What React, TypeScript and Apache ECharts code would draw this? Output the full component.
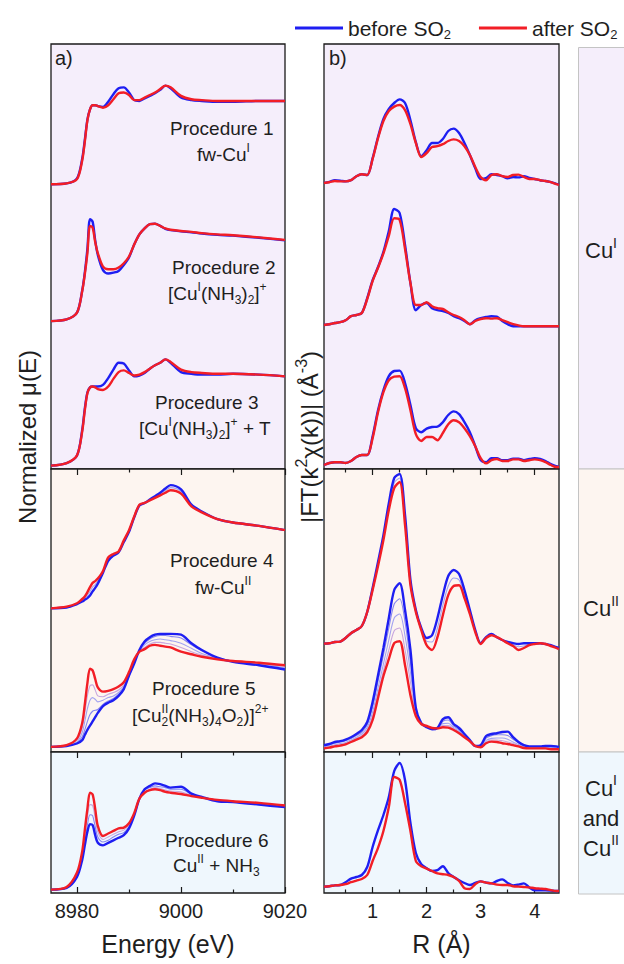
import React, { useEffect, useRef } from 'react';
import * as echarts from 'echarts';

// ---------------- data ----------------
const ENERGY = [8975, 8978, 8980, 8981, 8981.5, 8982, 8982.5, 8983, 8983.5, 8984, 8985, 8986, 8987, 8988, 8989, 8990, 8991, 8992, 8993, 8994, 8995, 8996, 8997, 8998, 9000, 9002, 9004, 9007, 9010, 9015, 9020];
const R_GRID = [0.1, 0.2, 0.3, 0.4, 0.5, 0.6, 0.7, 0.8, 0.9, 1.0, 1.1, 1.2, 1.3, 1.4, 1.5, 1.6, 1.7, 1.8, 1.9, 2.0, 2.1, 2.2, 2.3, 2.4, 2.5, 2.6, 2.7, 2.8, 2.9, 3.0, 3.1, 3.2, 3.3, 3.4, 3.5, 3.6, 3.7, 3.8, 3.9, 4.0, 4.1, 4.2, 4.3, 4.4, 4.45];

const ENERGY_TICK_LABELS = [8980, 9000, 9020];
const ENERGY_MINOR_TICKS = [8990, 9010];
const R_TICK_LABELS = [1, 2, 3, 4];
const R_MINOR_TICKS = [0.5, 1.5, 2.5, 3.5];

const PROCEDURE_SECTION = [0, 0, 0, 1, 1, 2];
const XANES_OFFSETS = [3.35, 1.74, 0.04, 1.69, 0.06, 0.04];
const FT_OFFSETS = [7.1, 3.55, 0.05, 2.55, 0.05, 0.05];

// XANES, normalized mu(E)
const X1_BEFORE = [0, 0.01, 0.07, 0.3, 0.52, 0.76, 0.88, 0.93, 0.93, 0.92, 0.91, 0.97, 1.06, 1.13, 1.14, 1.08, 0.99, 0.98, 1.01, 1.04, 1.07, 1.11, 1.16, 1.13, 1.02, 0.99, 0.98, 0.97, 0.97, 0.98, 0.98];
const X1_AFTER = [0, 0.01, 0.06, 0.28, 0.5, 0.75, 0.88, 0.93, 0.93, 0.92, 0.9, 0.93, 1.0, 1.07, 1.08, 1.05, 0.99, 0.99, 1.02, 1.05, 1.08, 1.12, 1.16, 1.14, 1.04, 1.0, 0.99, 0.98, 0.98, 0.98, 0.98];
const X2_BEFORE = [0, 0.02, 0.1, 0.36, 0.57, 0.85, 1.2, 1.17, 0.95, 0.78, 0.6, 0.56, 0.57, 0.59, 0.66, 0.75, 0.9, 1.02, 1.09, 1.14, 1.145, 1.12, 1.085, 1.07, 1.055, 1.045, 1.03, 1.015, 1.005, 0.98, 0.95];
const X2_AFTER = [0, 0.02, 0.1, 0.35, 0.55, 0.8, 1.12, 1.1, 0.93, 0.8, 0.64, 0.61, 0.61, 0.63, 0.68, 0.76, 0.9, 1.02, 1.09, 1.14, 1.145, 1.12, 1.09, 1.075, 1.06, 1.05, 1.035, 1.02, 1.01, 0.985, 0.955];
const X3_BEFORE = [0, 0.03, 0.12, 0.42, 0.67, 0.86, 0.92, 0.93, 0.93, 0.93, 0.95, 1.03, 1.13, 1.21, 1.2, 1.12, 1.05, 1.06, 1.09, 1.14, 1.18, 1.21, 1.25, 1.21, 1.1, 1.08, 1.07, 1.07, 1.08, 1.07, 1.05];
const X3_AFTER = [0, 0.03, 0.12, 0.4, 0.65, 0.85, 0.92, 0.93, 0.92, 0.9, 0.89, 0.93, 1.02, 1.1, 1.12, 1.09, 1.06, 1.07, 1.1, 1.14, 1.18, 1.21, 1.25, 1.22, 1.13, 1.1, 1.09, 1.08, 1.08, 1.07, 1.05];
const X4_BEFORE = [0, 0.01, 0.05, 0.08, 0.1, 0.12, 0.15, 0.2, 0.24, 0.29, 0.42, 0.56, 0.62, 0.66, 0.78, 0.9, 1.07, 1.21, 1.24, 1.28, 1.32, 1.36, 1.41, 1.45, 1.4, 1.22, 1.14, 1.05, 1.01, 0.97, 0.92];
const X4_MID = [0, 0.015, 0.055, 0.095, 0.12, 0.155, 0.2, 0.25, 0.28, 0.32, 0.43, 0.58, 0.63, 0.665, 0.79, 0.91, 1.075, 1.215, 1.24, 1.275, 1.31, 1.345, 1.385, 1.42, 1.375, 1.21, 1.135, 1.05, 1.01, 0.97, 0.92];
const X4_AFTER = [0, 0.02, 0.06, 0.11, 0.14, 0.19, 0.25, 0.3, 0.32, 0.35, 0.44, 0.6, 0.64, 0.67, 0.8, 0.92, 1.08, 1.22, 1.24, 1.27, 1.3, 1.33, 1.36, 1.39, 1.35, 1.2, 1.13, 1.05, 1.01, 0.97, 0.92];
const X5_BEFORE = [0, 0.01, 0.04, 0.08, 0.14, 0.2, 0.25, 0.3, 0.35, 0.4, 0.48, 0.52, 0.55, 0.6, 0.68, 0.84, 0.98, 1.14, 1.24, 1.29, 1.32, 1.33, 1.33, 1.33, 1.32, 1.22, 1.14, 1.05, 1.0, 0.96, 0.91];
const X5_MID1 = [0, 0.01, 0.05, 0.12, 0.2, 0.3, 0.38, 0.42, 0.43, 0.44, 0.5, 0.54, 0.57, 0.62, 0.69, 0.83, 0.98, 1.13, 1.22, 1.27, 1.3, 1.31, 1.31, 1.3, 1.28, 1.2, 1.13, 1.05, 1.01, 0.97, 0.92];
const X5_MID2 = [0, 0.01, 0.06, 0.17, 0.3, 0.45, 0.55, 0.58, 0.56, 0.53, 0.55, 0.58, 0.6, 0.64, 0.71, 0.85, 1.0, 1.13, 1.2, 1.24, 1.26, 1.27, 1.26, 1.25, 1.22, 1.16, 1.1, 1.05, 1.01, 0.98, 0.93];
const X5_MID3 = [0, 0.02, 0.08, 0.22, 0.4, 0.6, 0.72, 0.73, 0.67, 0.6, 0.59, 0.62, 0.64, 0.67, 0.73, 0.86, 1.01, 1.12, 1.17, 1.21, 1.23, 1.23, 1.22, 1.21, 1.17, 1.12, 1.08, 1.04, 1.01, 0.98, 0.95];
const X5_AFTER = [0, 0.02, 0.1, 0.28, 0.5, 0.75, 0.92, 0.9, 0.8, 0.7, 0.65, 0.66, 0.68, 0.71, 0.76, 0.88, 1.03, 1.12, 1.15, 1.19, 1.2, 1.19, 1.18, 1.17, 1.12, 1.09, 1.06, 1.03, 1.01, 0.99, 0.96];
const X6_BEFORE = [0, 0.02, 0.15, 0.35, 0.52, 0.68, 0.77, 0.76, 0.64, 0.55, 0.52, 0.55, 0.58, 0.61, 0.64, 0.72, 0.87, 1.07, 1.18, 1.22, 1.25, 1.24, 1.22, 1.2, 1.21, 1.13, 1.09, 1.04, 1.03, 1.0, 0.97];
const X6_MID1 = [0, 0.02, 0.16, 0.38, 0.57, 0.76, 0.88, 0.87, 0.74, 0.62, 0.56, 0.58, 0.62, 0.65, 0.67, 0.74, 0.87, 1.07, 1.17, 1.2, 1.22, 1.21, 1.2, 1.18, 1.18, 1.12, 1.09, 1.05, 1.03, 1.0, 0.97];
const X6_MID2 = [0, 0.02, 0.18, 0.41, 0.63, 0.85, 1.0, 0.99, 0.84, 0.68, 0.59, 0.62, 0.65, 0.68, 0.7, 0.76, 0.89, 1.07, 1.15, 1.18, 1.2, 1.19, 1.17, 1.16, 1.15, 1.11, 1.08, 1.05, 1.03, 1.01, 0.98];
const X6_AFTER = [0, 0.03, 0.2, 0.45, 0.7, 0.95, 1.14, 1.12, 0.95, 0.75, 0.63, 0.66, 0.69, 0.72, 0.73, 0.78, 0.9, 1.07, 1.14, 1.17, 1.18, 1.17, 1.15, 1.14, 1.125, 1.1, 1.08, 1.055, 1.04, 1.02, 0.99];

// |FT(k^2 chi(k))|
const F1_BEFORE = [0.05, 0.08, 0.12, 0.11, 0.09, 0.12, 0.22, 0.27, 0.25, 0.67, 1.2, 1.65, 1.9, 2.05, 2.14, 2.05, 1.62, 1.07, 0.72, 0.87, 1.05, 1.05, 1.15, 1.35, 1.41, 1.3, 1.05, 0.75, 0.42, 0.15, 0.17, 0.27, 0.25, 0.22, 0.17, 0.2, 0.19, 0.22, 0.18, 0.15, 0.12, 0.1, 0.07, 0.03, 0.02];
const F1_AFTER = [0.05, 0.07, 0.1, 0.09, 0.09, 0.12, 0.22, 0.27, 0.25, 0.65, 1.17, 1.6, 1.85, 1.96, 2.0, 1.87, 1.52, 1.05, 0.7, 0.8, 0.95, 0.97, 1.02, 1.1, 1.14, 1.1, 0.97, 0.75, 0.45, 0.2, 0.12, 0.25, 0.27, 0.22, 0.2, 0.25, 0.26, 0.2, 0.15, 0.15, 0.12, 0.1, 0.07, 0.02, 0];
const F2_BEFORE = [0.05, 0.07, 0.1, 0.12, 0.17, 0.27, 0.3, 0.35, 0.72, 1.17, 1.5, 1.88, 2.4, 2.95, 2.85, 2.05, 1.1, 0.42, 0.55, 0.6, 0.47, 0.42, 0.4, 0.35, 0.27, 0.22, 0.15, 0.07, 0.17, 0.22, 0.25, 0.27, 0.26, 0.15, 0.07, 0.02, 0.02, 0.02, 0.02, 0.02, 0.02, 0.02, 0.02, 0.02, 0.02];
const F2_AFTER = [0.05, 0.07, 0.1, 0.12, 0.17, 0.27, 0.3, 0.35, 0.7, 1.15, 1.48, 1.84, 2.28, 2.72, 2.68, 1.95, 1.1, 0.55, 0.55, 0.62, 0.52, 0.47, 0.45, 0.37, 0.3, 0.25, 0.17, 0.07, 0.15, 0.2, 0.22, 0.21, 0.22, 0.17, 0.12, 0.07, 0.04, 0.02, 0.02, 0.02, 0.02, 0.02, 0.02, 0.02, 0.02];
const F3_BEFORE = [0.05, 0.1, 0.12, 0.12, 0.1, 0.15, 0.25, 0.3, 0.3, 0.77, 1.42, 1.92, 2.27, 2.4, 2.41, 2.1, 1.55, 0.97, 0.87, 0.96, 1.0, 1.01, 1.12, 1.3, 1.39, 1.32, 1.12, 0.87, 0.52, 0.17, 0.12, 0.22, 0.22, 0.17, 0.17, 0.21, 0.21, 0.17, 0.2, 0.22, 0.2, 0.15, 0.07, 0.02, 0];
const F3_AFTER = [0.05, 0.1, 0.12, 0.12, 0.1, 0.15, 0.25, 0.3, 0.3, 0.72, 1.37, 1.87, 2.17, 2.26, 2.27, 1.97, 1.42, 0.82, 0.65, 0.75, 0.75, 0.67, 0.85, 1.07, 1.17, 1.12, 0.97, 0.77, 0.52, 0.22, 0.09, 0.17, 0.2, 0.15, 0.15, 0.19, 0.19, 0.15, 0.17, 0.19, 0.17, 0.12, 0.05, 0, 0];
const F4_BEFORE = [0.16, 0.17, 0.2, 0.21, 0.3, 0.42, 0.5, 0.6, 0.95, 1.55, 2.2, 2.87, 3.67, 4.3, 4.4, 3.37, 1.75, 1.0, 0.55, 0.3, 0.37, 0.8, 1.37, 1.85, 2.0, 1.9, 1.5, 1.0, 0.5, 0.17, 0.32, 0.4, 0.32, 0.25, 0.2, 0.17, 0.15, 0.17, 0.17, 0.17, 0.17, 0.15, 0.12, 0.07, 0.05];
const F4_MID = [0.16, 0.17, 0.2, 0.21, 0.3, 0.42, 0.5, 0.6, 0.95, 1.52, 2.15, 2.8, 3.58, 4.18, 4.3, 3.25, 1.7, 0.98, 0.52, 0.22, 0.2, 0.55, 1.12, 1.6, 1.8, 1.75, 1.4, 0.95, 0.47, 0.16, 0.31, 0.38, 0.32, 0.25, 0.18, 0.13, 0.08, 0.1, 0.14, 0.16, 0.17, 0.15, 0.11, 0.06, 0.03];
const F4_AFTER = [0.16, 0.17, 0.2, 0.21, 0.3, 0.42, 0.5, 0.6, 0.95, 1.5, 2.1, 2.75, 3.5, 4.05, 4.2, 3.12, 1.62, 0.95, 0.5, 0.12, 0, 0.32, 0.87, 1.37, 1.6, 1.62, 1.3, 0.9, 0.45, 0.15, 0.3, 0.37, 0.32, 0.25, 0.17, 0.1, 0, 0.05, 0.12, 0.15, 0.17, 0.15, 0.1, 0.05, 0.02];
const F5_BEFORE = [0.12, 0.15, 0.2, 0.22, 0.26, 0.32, 0.4, 0.5, 0.7, 1.2, 1.87, 2.55, 3.3, 4.0, 4.17, 3.5, 2.5, 1.05, 0.67, 0.57, 0.52, 0.55, 0.77, 0.82, 0.65, 0.55, 0.4, 0.25, 0.1, 0.12, 0.35, 0.4, 0.42, 0.45, 0.46, 0.32, 0.2, 0.12, 0.09, 0.09, 0.09, 0.1, 0.1, 0.09, 0.07];
const F5_MID1 = [0.1, 0.13, 0.17, 0.2, 0.23, 0.29, 0.36, 0.45, 0.63, 1.08, 1.72, 2.37, 3.05, 3.65, 3.78, 3.2, 2.2, 1.0, 0.66, 0.58, 0.53, 0.55, 0.72, 0.75, 0.6, 0.51, 0.38, 0.24, 0.1, 0.11, 0.3, 0.36, 0.38, 0.38, 0.36, 0.27, 0.18, 0.11, 0.08, 0.08, 0.08, 0.08, 0.08, 0.07, 0.06];
const F5_MID2 = [0.08, 0.1, 0.13, 0.16, 0.19, 0.25, 0.32, 0.4, 0.56, 0.95, 1.55, 2.15, 2.75, 3.3, 3.4, 2.85, 1.95, 0.95, 0.65, 0.59, 0.54, 0.55, 0.66, 0.67, 0.56, 0.47, 0.35, 0.23, 0.1, 0.09, 0.24, 0.29, 0.3, 0.3, 0.27, 0.2, 0.14, 0.08, 0.06, 0.06, 0.06, 0.06, 0.05, 0.05, 0.04];
const F5_MID3 = [0.06, 0.08, 0.11, 0.13, 0.16, 0.22, 0.29, 0.36, 0.5, 0.85, 1.42, 1.98, 2.5, 2.98, 3.05, 2.5, 1.7, 0.9, 0.65, 0.6, 0.55, 0.55, 0.61, 0.61, 0.53, 0.44, 0.33, 0.22, 0.1, 0.08, 0.2, 0.25, 0.25, 0.23, 0.2, 0.16, 0.11, 0.06, 0.05, 0.05, 0.05, 0.05, 0.03, 0.03, 0.03];
const F5_AFTER = [0.04, 0.06, 0.09, 0.11, 0.14, 0.2, 0.26, 0.32, 0.45, 0.75, 1.3, 1.85, 2.27, 2.67, 2.72, 2.12, 1.37, 0.85, 0.65, 0.6, 0.55, 0.54, 0.57, 0.56, 0.5, 0.42, 0.32, 0.22, 0.1, 0.07, 0.17, 0.21, 0.2, 0.17, 0.15, 0.12, 0.09, 0.05, 0.04, 0.04, 0.04, 0.04, 0.02, 0.02, 0.02];
const F6_BEFORE = [0.11, 0.12, 0.14, 0.15, 0.22, 0.31, 0.35, 0.4, 0.6, 1.1, 1.52, 1.9, 2.35, 3.0, 3.2, 2.77, 1.7, 0.95, 0.67, 0.57, 0.5, 0.52, 0.62, 0.45, 0.35, 0.27, 0.2, 0.15, 0.2, 0.24, 0.21, 0.19, 0.25, 0.29, 0.2, 0.14, 0.16, 0.19, 0.09, 0.02, 0.02, 0.02, 0.01, 0, 0];
const F6_AFTER = [0.11, 0.12, 0.14, 0.15, 0.17, 0.22, 0.26, 0.3, 0.4, 0.75, 1.08, 1.5, 2.1, 2.85, 2.78, 2.2, 1.5, 0.75, 0.62, 0.56, 0.5, 0.44, 0.42, 0.4, 0.35, 0.25, 0.07, 0.05, 0.17, 0.24, 0.21, 0.19, 0.16, 0.15, 0.15, 0.12, 0.11, 0.1, 0.09, 0.07, 0.06, 0.05, 0.02, 0, 0];

const XANES_BEFORE = [X1_BEFORE, X2_BEFORE, X3_BEFORE, X4_BEFORE, X5_BEFORE, X6_BEFORE];
const XANES_AFTER = [X1_AFTER, X2_AFTER, X3_AFTER, X4_AFTER, X5_AFTER, X6_AFTER];
const XANES_MIDS = [[], [], [], [X4_MID], [X5_MID1, X5_MID2, X5_MID3], [X6_MID1, X6_MID2]];
const FT_BEFORE = [F1_BEFORE, F2_BEFORE, F3_BEFORE, F4_BEFORE, F5_BEFORE, F6_BEFORE];
const FT_AFTER = [F1_AFTER, F2_AFTER, F3_AFTER, F4_AFTER, F5_AFTER, F6_AFTER];
const FT_MIDS = [[], [], [], [F4_MID], [F5_MID1, F5_MID2, F5_MID3], []];

const SERIES_BEFORE = 'before SO2';
const SERIES_AFTER = 'after SO2';

// ---------------- layout / style ----------------
const FONT = 'Arial, "Liberation Sans", Helvetica, sans-serif';
const TEXT = '#1e1e1e';
const BLUE = '#1e1ef2';
const RED = '#f21e26';
const AXIS = '#1a1a1a';
const SECTION_TOPS = [44, 469, 752];
const SECTION_HEIGHTS = [425, 283, 141];
const SECTION_BG = ['#f5eefb', '#fdf5f0', '#eff7fd'];
const MID_COLORS = ['#8585f0', '#a3a3f0', '#c8a6de'];

const PANELS = [
  { left: 51, width: 234, min: 8975, max: 9020, unit: 85, labels: ENERGY_TICK_LABELS, minors: ENERGY_MINOR_TICKS, name: 'Energy (eV)' },
  { left: 324, width: 235, min: 0.1, max: 4.45, unit: 40, labels: R_TICK_LABELS, minors: R_MINOR_TICKS, name: 'R (Å)' },
];

function rich(size: number) {
  const s = Math.round(size * 0.65);
  const base = { fontSize: s, fontFamily: FONT, fill: TEXT, color: TEXT, lineHeight: s + 1 };
  return {
    sup: { ...base, verticalAlign: 'top' },
    sub: { ...base, verticalAlign: 'bottom' },
    z: { ...base, verticalAlign: 'bottom', width: 0 },
  };
}

function txt(x: number, y: number, text: string, size: number, align = 'center', extra: any = {}) {
  return {
    type: 'text', x, y, z: 100, silent: true, ...extra,
    style: {
      text, fontSize: size, fontFamily: FONT, fill: TEXT, align, verticalAlign: 'middle',
      lineHeight: Math.round(size * 1.3), rich: rich(size),
    },
  };
}

const PROC_TEXTS: [number, number, string][] = [
  [170, 128.5, 'Procedure 1'], [197, 154, 'fw-Cu{sup|I}'],
  [172, 267.5, 'Procedure 2'], [168, 293, '[Cu{sup|I}(NH{sub|3}){sub|2}]{sup|+}'],
  [155, 402, 'Procedure 3'], [139, 428, '[Cu{sup|I}(NH{sub|3}){sub|2}]{sup|+} + T'],
  [170, 560, 'Procedure 4'], [195, 587, 'fw-Cu{sup|II}'],
  [152, 688.5, 'Procedure 5'], [132, 715, '[Cu{z|2}{sup|II}(NH{sub|3}){sub|4}O{sub|2})]{sup|2+}'],
  [165, 840, 'Procedure 6'], [173, 865, 'Cu{sup|II} + NH{sub|3}'],
];

function buildOption() {
  const grid: any[] = [];
  const xAxis: any[] = [];
  const yAxis: any[] = [];
  const series: any[] = [];

  PANELS.forEach((p) => {
    SECTION_TOPS.forEach((top, s) => {
      grid.push({
        left: p.left, width: p.width, top, height: SECTION_HEIGHTS[s], show: true,
        backgroundColor: SECTION_BG[s], borderColor: AXIS, borderWidth: 1.3,
      });
    });
  });

  // data axes (one per grid)
  grid.forEach((_, gi) => {
    const p = PANELS[Math.floor(gi / 3)];
    const s = gi % 3;
    const isBottom = s === 2;
    yAxis.push({ gridIndex: gi, type: 'value', min: 0, max: SECTION_HEIGHTS[s] / p.unit, show: false });
    xAxis.push({
      gridIndex: gi, type: 'value', min: p.min, max: p.max, position: 'bottom',
      axisLine: { show: false, onZero: false },
      axisTick: isBottom
        ? { show: true, inside: true, length: 6, customValues: p.labels, lineStyle: { color: AXIS, width: 1.2 } }
        : { show: false },
      axisLabel: isBottom
        ? { show: true, customValues: p.labels, formatter: (v: number) => String(v), fontSize: 20, fontFamily: FONT, color: TEXT, margin: 8 }
        : { show: false },
      splitLine: { show: false },
      ...(isBottom
        ? { name: p.name, nameLocation: 'middle', nameGap: 38, nameTextStyle: { fontSize: 25, fontFamily: FONT, color: TEXT } }
        : {}),
    });
  });

  // tick-only axes
  const tickAxis = (gi: number, position: string, values: number[], length: number) => {
    const p = PANELS[Math.floor(gi / 3)];
    xAxis.push({
      gridIndex: gi, type: 'value', min: p.min, max: p.max, position,
      axisLine: { show: false, onZero: false },
      axisTick: { show: true, inside: true, length, customValues: values, lineStyle: { color: AXIS, width: 1.2 } },
      axisLabel: { show: false }, splitLine: { show: false },
    });
  };
  [0, 1].forEach((pi) => {
    const p = PANELS[pi];
    [1, 2].forEach((s) => {
      const gi = pi * 3 + s;
      tickAxis(gi, 'top', p.labels, 6);
      tickAxis(gi, 'top', p.minors, 3.5);
    });
    tickAxis(pi * 3 + 2, 'bottom', p.minors, 3.5);
  });

  const addCurves = (pi: number, xs: number[], before: number[][], after: number[][], mids: number[][][], offsets: number[]) => {
    for (let k = 0; k < 6; k++) {
      const gi = pi * 3 + PROCEDURE_SECTION[k];
      const off = offsets[k];
      const mk = (vals: number[]) => xs.map((x, i) => [x, vals[i] + off]);
      mids[k].forEach((m, j) => {
        const c = MID_COLORS[mids[k].length === 1 ? 1 : Math.round((j * 2) / (mids[k].length - 1))];
        series.push({
          type: 'line', name: `P${k + 1} intermediate ${j + 1}`, xAxisIndex: gi, yAxisIndex: gi,
          data: mk(m), symbol: 'none', smooth: 0.3, silent: true, z: 2,
          lineStyle: { width: 1.1, color: c }, itemStyle: { color: c },
        });
      });
      series.push({
        type: 'line', name: SERIES_BEFORE, xAxisIndex: gi, yAxisIndex: gi, data: mk(before[k]),
        symbol: 'none', smooth: 0.3, silent: true, z: 3, color: BLUE,
        lineStyle: { width: 2.4, color: BLUE }, itemStyle: { color: BLUE },
      });
      series.push({
        type: 'line', name: SERIES_AFTER, xAxisIndex: gi, yAxisIndex: gi, data: mk(after[k]),
        symbol: 'none', smooth: 0.3, silent: true, z: 4, color: RED,
        lineStyle: { width: 2.4, color: RED }, itemStyle: { color: RED },
      });
    }
  };
  addCurves(0, ENERGY, XANES_BEFORE, XANES_AFTER, XANES_MIDS, XANES_OFFSETS);
  addCurves(1, R_GRID, FT_BEFORE, FT_AFTER, FT_MIDS, FT_OFFSETS);

  const graphic: any[] = [
    // right-hand oxidation state column
    { type: 'rect', z: 1, silent: true, shape: { x: 578.5, y: 47.5, width: 60, height: 421.5 }, style: { fill: SECTION_BG[0], stroke: '#c4c4c4', lineWidth: 1 } },
    { type: 'rect', z: 1, silent: true, shape: { x: 578.5, y: 469, width: 60, height: 283 }, style: { fill: SECTION_BG[1], stroke: '#c4c4c4', lineWidth: 1 } },
    { type: 'rect', z: 1, silent: true, shape: { x: 578.5, y: 752, width: 60, height: 142 }, style: { fill: SECTION_BG[2], stroke: '#c4c4c4', lineWidth: 1 } },
    txt(601, 250, 'Cu{sup|I}', 22),
    txt(601, 608, 'Cu{sup|II}', 22),
    txt(601, 818, 'Cu{sup|I}\nand\nCu{sup|II}', 22, 'center', {}),
    // axis titles
    txt(27, 437, 'Normalized μ(E)', 24, 'center', { rotation: Math.PI / 2 }),
    txt(309, 437, '|FT(k{sup|2}χ(k))| (Å{sup|-3})', 24, 'center', { rotation: Math.PI / 2 }),
    // panel letters
    txt(55, 58, 'a)', 20, 'left'),
    txt(329, 58, 'b)', 20, 'left'),
  ];
  PROC_TEXTS.forEach(([x, y, t]) => graphic.push(txt(x, y, t, 19, 'left')));
  // line spacing of the three-line label
  graphic[5].style.lineHeight = 30;

  return {
    animation: false,
    backgroundColor: '#ffffff',
    textStyle: { fontFamily: FONT },
    legend: {
      data: [SERIES_BEFORE, SERIES_AFTER],
      left: 290, top: 10, icon: 'rect', itemWidth: 48, itemHeight: 3, itemGap: 28,
      formatter: (n: string) => (n === SERIES_BEFORE ? 'before SO{s|2}' : 'after SO{s|2}'),
      textStyle: {
        fontSize: 21, fontFamily: FONT, color: TEXT, lineHeight: 26,
        rich: { s: { fontSize: 13, fontFamily: FONT, color: TEXT, lineHeight: 14, verticalAlign: 'bottom' } },
      },
    },
    grid, xAxis, yAxis, series, graphic,
  };
}

export default function App() {
  const ref = useRef<HTMLDivElement>(null);
  useEffect(() => {
    document.body.style.margin = '0';
    const chart = echarts.init(ref.current as HTMLDivElement, null, { renderer: 'svg', width: 624, height: 964 });
    chart.setOption(buildOption() as any);
    return () => chart.dispose();
  }, []);
  return <div ref={ref} style={{ width: 624, height: 964 }} />;
}
